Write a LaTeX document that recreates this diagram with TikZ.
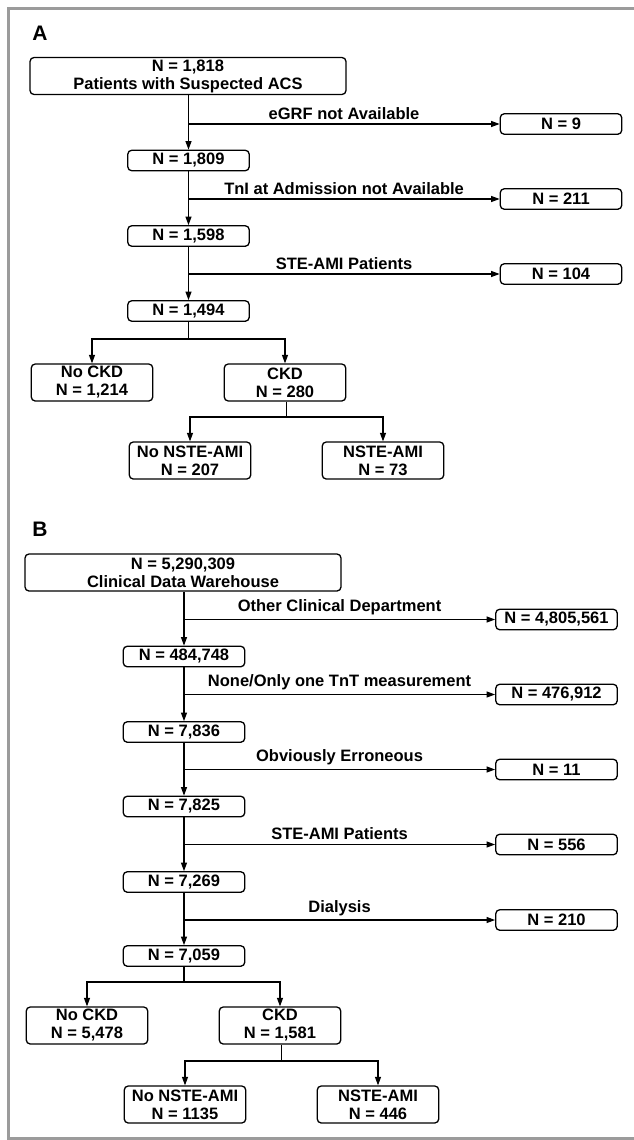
\documentclass[tikz,border=0pt]{standalone}
\usepackage{fontspec}
\setmainfont{Liberation Sans}
\usetikzlibrary{arrows.meta}
\begin{document}
\begin{tikzpicture}[x=1pt,y=-1pt,
  font=\bfseries\fontsize{16.5}{18}\selectfont,
  box/.style={draw, line width=1.3pt, rounded corners=4pt, align=center, inner sep=0pt},
  big/.style={box, minimum width=316pt, minimum height=37pt},
  small/.style={box, minimum width=121.5pt, minimum height=20.5pt},
  two/.style={box, minimum width=121.5pt, minimum height=37pt},
  arr/.style={line width=1.1pt, -{Triangle[length=8.5pt,width=6pt]}},
  ln/.style={line width=1.1pt},
  lbl/.style={midway, above, inner sep=0pt, yshift=4pt},
  panel/.style={font=\bfseries\fontsize{21}{21}\selectfont, inner sep=0pt}]
\useasboundingbox (0,0) rectangle (634,1140);
\draw[draw={rgb,255:red,155;green,155;blue,155}, line width=2.6pt] (640,8.7) -- (8.3,8.7) -- (8.3,1138.7) -- (640,1138.7);

% Panel A
\node[panel] (pA) at (40,33) {A};
\node[big] (a0) at (188,76) {N = 1,818\\Patients with Suspected ACS};
\node[small] (a1) at (188.5,160.5) {N = 1,809};
\node[small] (a2) at (188.5,236) {N = 1,598};
\node[small] (a3) at (188.5,311) {N = 1,494};
\node[small] (ra1) at (561,124) {N = 9};
\node[small] (ra2) at (561,199) {N = 211};
\node[small] (ra3) at (561,274) {N = 104};
\node[two] (anc) at (92,382.5) {No CKD\\N = 1,214};
\node[two] (ack) at (285,382.5) {CKD\\N = 280};
\node[two] (ann) at (190,460.5) {No NSTE-AMI\\N = 207};
\node[two] (ans) at (383,460.5) {NSTE-AMI\\N = 73};

\draw[arr] (a0.south -| a1) -- (a1.north);
\draw[arr] (a1.south) -- (a2.north);
\draw[arr] (a2.south) -- (a3.north);
\draw[arr] (a1 |- ra1.west) -- node[lbl] {eGRF not Available} (ra1.west);
\draw[arr] (a1 |- ra2.west) -- node[lbl] {TnI at Admission not Available} (ra2.west);
\draw[arr] (a1 |- ra3.west) -- node[lbl] {STE-AMI Patients} (ra3.west);
\coordinate (sa1) at (188.5,339);
\draw[ln] (a3.south) -- (sa1);
\draw[arr] (sa1) -| (anc.north);
\draw[arr] (sa1) -| (ack.north);
\coordinate (sa2) at (286.5,417);
\draw[ln] (ack.south -| sa2) -- (sa2);
\draw[arr] (sa2) -| (ann.north);
\draw[arr] (sa2) -| (ans.north);

% Panel B
\node[panel] (pB) at (40,529) {B};
\node[big] (b0) at (183,572.5) {N = 5,290,309\\Clinical Data Warehouse};
\node[small] (b1) at (184,656.5) {N = 484,748};
\node[small] (b2) at (184,732) {N = 7,836};
\node[small] (b3) at (184,806.5) {N = 7,825};
\node[small] (b4) at (184,882) {N = 7,269};
\node[small] (b5) at (184,956) {N = 7,059};
\node[small] (rb1) at (556.5,619.5) {N = 4,805,561};
\node[small] (rb2) at (556.5,694.5) {N = 476,912};
\node[small] (rb3) at (556.5,769.5) {N = 11};
\node[small] (rb4) at (556.5,844.5) {N = 556};
\node[small] (rb5) at (556.5,920) {N = 210};
\node[two] (bnc) at (87,1025.5) {No CKD\\N = 5,478};
\node[two] (bck) at (280,1025.5) {CKD\\N = 1,581};
\node[two] (bnn) at (185,1104.5) {No NSTE-AMI\\N = 1135};
\node[two] (bns) at (378,1104.5) {NSTE-AMI\\N = 446};

\draw[arr] (b0.south -| b1) -- (b1.north);
\draw[arr] (b1.south) -- (b2.north);
\draw[arr] (b2.south) -- (b3.north);
\draw[arr] (b3.south) -- (b4.north);
\draw[arr] (b4.south) -- (b5.north);
\draw[arr] (b1 |- rb1.west) -- node[lbl] {Other Clinical Department} (rb1.west);
\draw[arr] (b1 |- rb2.west) -- node[lbl] {None/Only one TnT measurement} (rb2.west);
\draw[arr] (b1 |- rb3.west) -- node[lbl] {Obviously Erroneous} (rb3.west);
\draw[arr] (b1 |- rb4.west) -- node[lbl] {STE-AMI Patients} (rb4.west);
\draw[arr] (b1 |- rb5.west) -- node[lbl] {Dialysis} (rb5.west);
\coordinate (sb1) at (184,982);
\draw[ln] (b5.south) -- (sb1);
\draw[arr] (sb1) -| (bnc.north);
\draw[arr] (sb1) -| (bck.north);
\coordinate (sb2) at (281.5,1061);
\draw[ln] (bck.south -| sb2) -- (sb2);
\draw[arr] (sb2) -| (bnn.north);
\draw[arr] (sb2) -| (bns.north);
\end{tikzpicture}
\end{document}
